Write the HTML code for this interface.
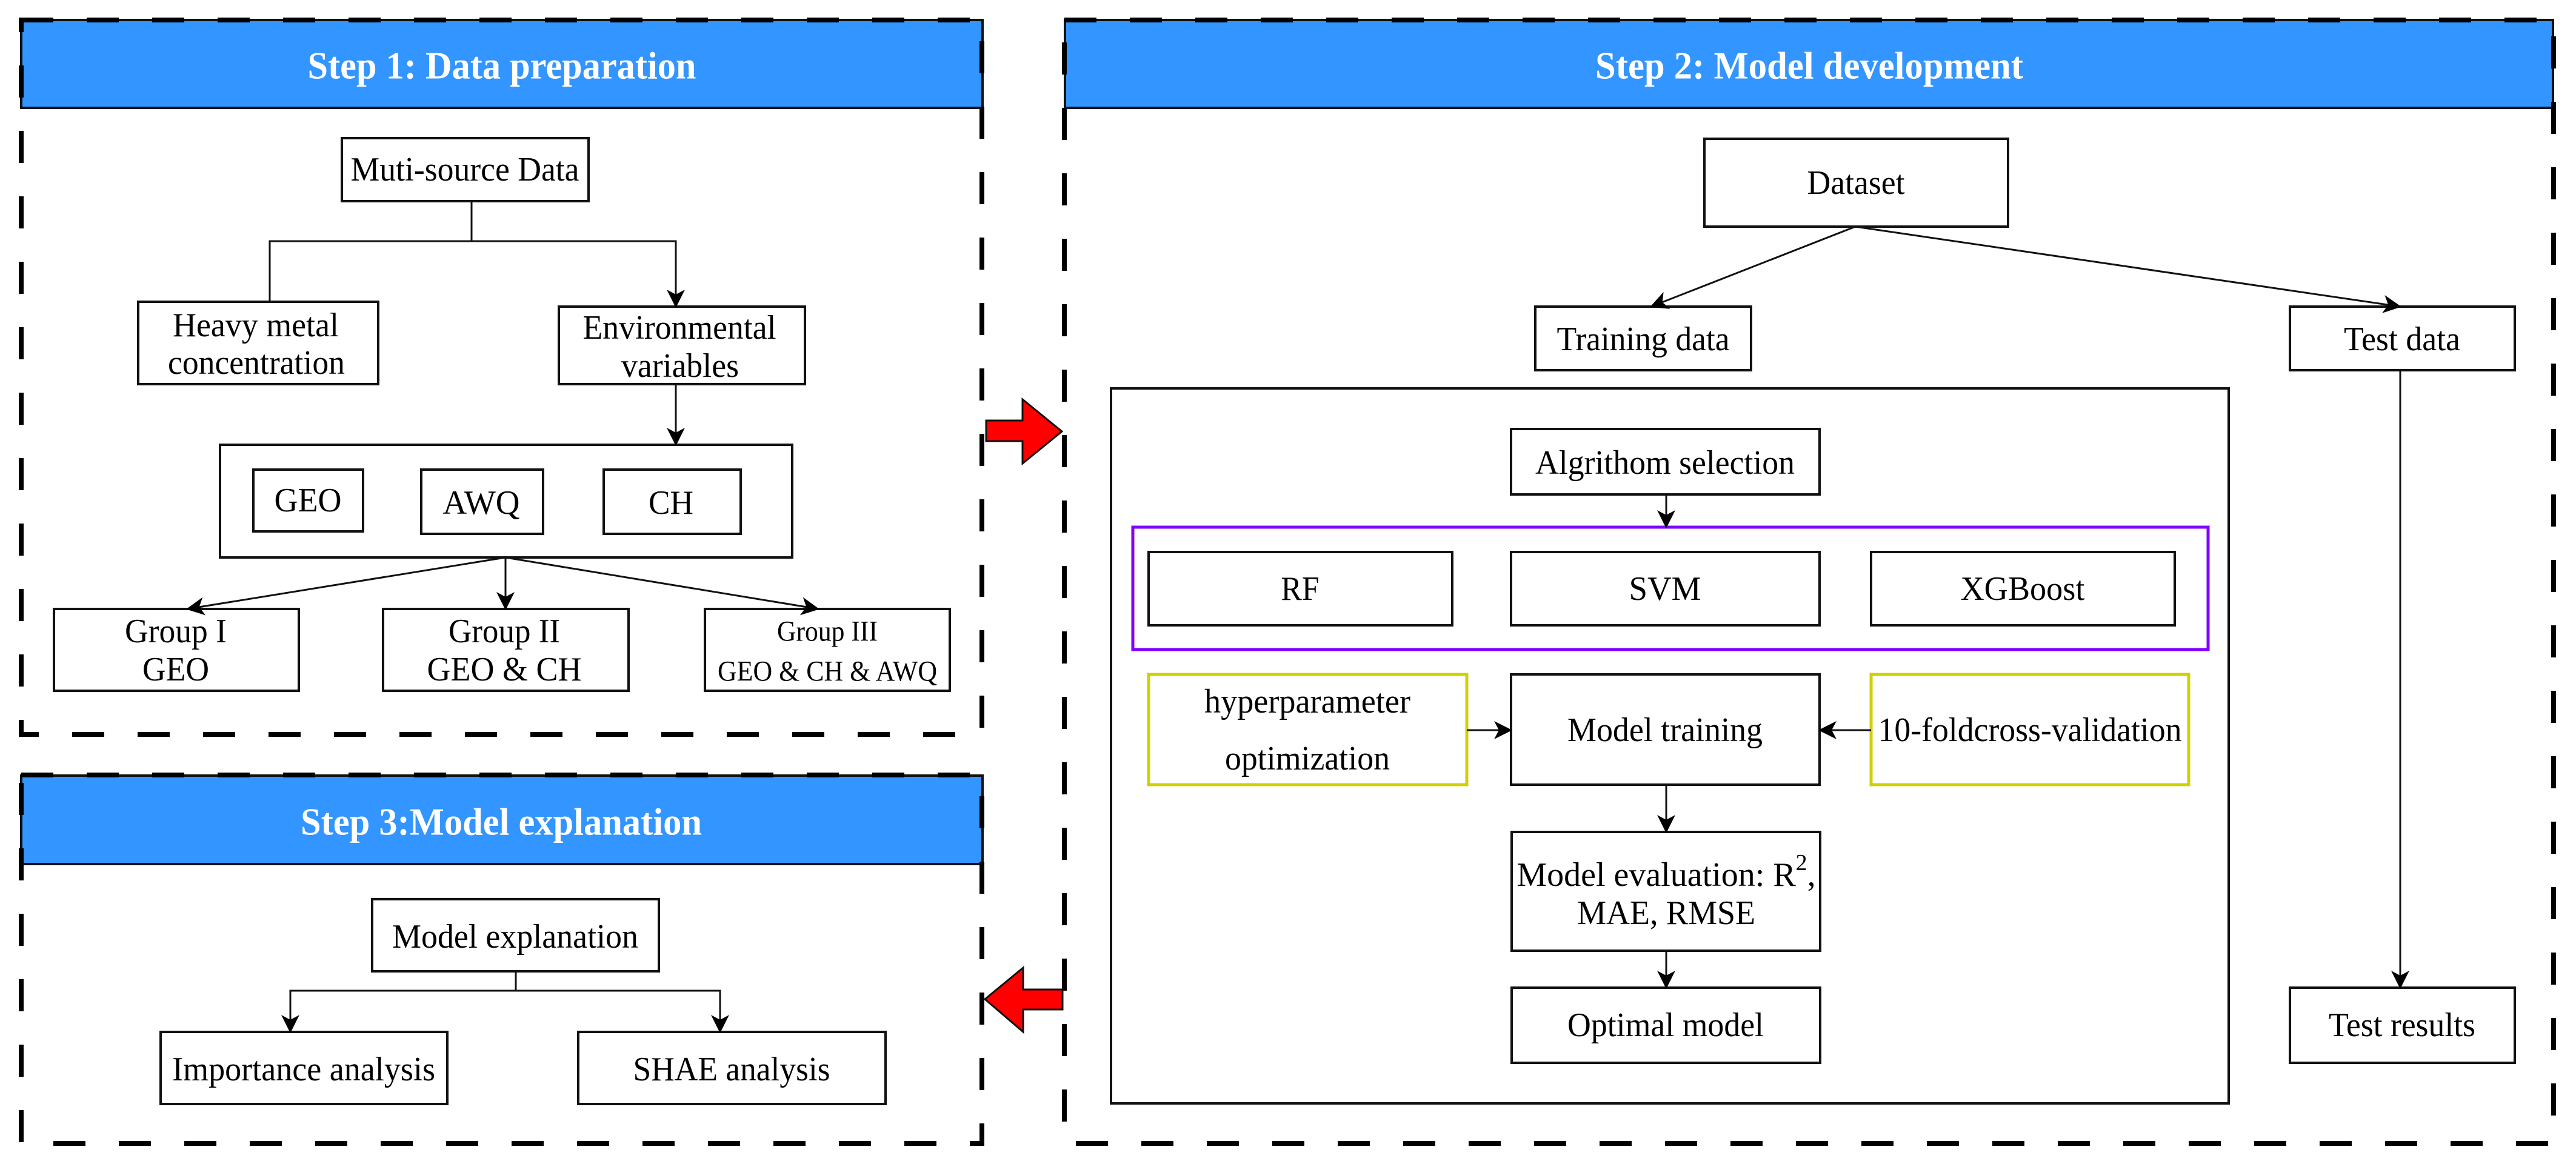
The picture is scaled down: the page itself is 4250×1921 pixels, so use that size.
<!DOCTYPE html>
<html><head><meta charset="utf-8"><style>
html,body{margin:0;padding:0;background:#fff;}
svg{display:block;}
svg text{font-family:"Liberation Serif","Times New Roman",Times,"DejaVu Serif","Noto Serif CJK SC",serif;}
</style></head><body>
<svg width="4250" height="1921" viewBox="0 0 4250 1921" xmlns="http://www.w3.org/2000/svg">
<defs>
<marker id="ah" viewBox="0 0 30 30" refX="28" refY="15" markerWidth="30" markerHeight="30" markerUnits="userSpaceOnUse" orient="auto">
<path d="M0,0 L30,15 L0,30 L8,15 Z" fill="#000"/>
</marker>
</defs>
<g text-anchor="middle" dominant-baseline="central" font-size="56" fill="#000">

<!-- STEP 1 -->
<rect x="35" y="33" width="1586" height="145" fill="#3395ff" stroke="#111" stroke-width="4"/>
<text x="828" y="108" font-size="64" font-weight="bold" fill="#fff" textLength="641" lengthAdjust="spacingAndGlyphs">Step 1: Data preparation</text>
<rect x="35" y="33" width="1585" height="1179" fill="none" stroke="#000" stroke-width="8" stroke-dasharray="53,55"/>

<g fill="#fff" stroke="#111" stroke-width="4">
<rect x="564" y="228" width="407" height="104"/>
<rect x="228" y="498" width="396" height="136"/>
<rect x="922" y="506" width="406" height="128"/>
<rect x="363" y="734" width="944" height="186"/>
<rect x="418" y="775" width="181" height="102"/>
<rect x="695" y="775" width="201" height="106"/>
<rect x="996" y="775" width="226" height="106"/>
<rect x="89" y="1005" width="404" height="135"/>
<rect x="632" y="1005" width="405" height="135"/>
<rect x="1163" y="1005" width="404" height="135"/>
</g>
<g fill="none" stroke="#111" stroke-width="3">
<polyline points="778,332 778,398 445,398 445,498"/>
<polyline points="778,398 1115,398 1115,506" marker-end="url(#ah)"/>
<line x1="1115" y1="634" x2="1115" y2="734" marker-end="url(#ah)"/>
<line x1="834" y1="920" x2="309" y2="1005" marker-end="url(#ah)"/>
<line x1="834" y1="920" x2="834" y2="1005" marker-end="url(#ah)"/>
<line x1="834" y1="920" x2="1350" y2="1005" marker-end="url(#ah)"/>
</g>
<text x="767" y="280" textLength="377" lengthAdjust="spacingAndGlyphs">Muti-source Data</text>
<text x="422" y="537" textLength="274" lengthAdjust="spacingAndGlyphs">Heavy metal</text>
<text x="423" y="599" textLength="292" lengthAdjust="spacingAndGlyphs">concentration</text>
<text x="1121" y="541" textLength="319" lengthAdjust="spacingAndGlyphs">Environmental</text>
<text x="1122" y="604" textLength="194" lengthAdjust="spacingAndGlyphs">variables</text>
<text x="508" y="826" textLength="111" lengthAdjust="spacingAndGlyphs">GEO</text>
<text x="794" y="830" textLength="127" lengthAdjust="spacingAndGlyphs">AWQ</text>
<text x="1107" y="830" textLength="74" lengthAdjust="spacingAndGlyphs">CH</text>
<text x="290" y="1042" textLength="168" lengthAdjust="spacingAndGlyphs">Group I</text>
<text x="290" y="1105" textLength="110" lengthAdjust="spacingAndGlyphs">GEO</text>
<text x="832" y="1042" textLength="184" lengthAdjust="spacingAndGlyphs">Group II</text>
<text x="832" y="1105" textLength="255" lengthAdjust="spacingAndGlyphs">GEO &amp; CH</text>
<text x="1365" y="1042" font-size="48" textLength="166" lengthAdjust="spacingAndGlyphs">Group III</text>
<text x="1365" y="1108" font-size="48" textLength="362" lengthAdjust="spacingAndGlyphs">GEO &amp; CH &amp; AWQ</text>

<!-- STEP 3 -->
<rect x="35" y="1280" width="1586" height="146" fill="#3395ff" stroke="#111" stroke-width="4"/>
<text x="827" y="1356" font-size="64" font-weight="bold" fill="#fff" textLength="662" lengthAdjust="spacingAndGlyphs">Step 3:Model explanation</text>
<rect x="35" y="1279" width="1585" height="608" fill="none" stroke="#000" stroke-width="8" stroke-dasharray="53,55"/>
<g fill="#fff" stroke="#111" stroke-width="4">
<rect x="614" y="1484" width="473" height="119"/>
<rect x="265" y="1703" width="473" height="119"/>
<rect x="954" y="1703" width="507" height="119"/>
</g>
<g fill="none" stroke="#111" stroke-width="3">
<line x1="851" y1="1603" x2="851" y2="1635"/>
<polyline points="851,1635 479,1635 479,1703" marker-end="url(#ah)"/>
<polyline points="851,1635 1188,1635 1188,1703" marker-end="url(#ah)"/>
</g>
<text x="850" y="1546" textLength="406" lengthAdjust="spacingAndGlyphs">Model explanation</text>
<text x="501" y="1765" textLength="434" lengthAdjust="spacingAndGlyphs">Importance analysis</text>
<text x="1207" y="1765" textLength="325" lengthAdjust="spacingAndGlyphs">SHAE analysis</text>

<!-- red arrows -->
<path d="M1627,694 L1687,694 L1687,659 L1752,712 L1687,765 L1687,728 L1627,728 Z" fill="#f00" stroke="#111" stroke-width="3"/>
<path d="M1753,1633 L1688,1633 L1688,1597 L1625,1649 L1688,1703 L1688,1666 L1753,1666 Z" fill="#f00" stroke="#111" stroke-width="3"/>

<!-- STEP 2 -->
<rect x="1757" y="33" width="2455" height="145" fill="#3395ff" stroke="#111" stroke-width="4"/>
<text x="2985" y="108" font-size="64" font-weight="bold" fill="#fff" textLength="706" lengthAdjust="spacingAndGlyphs">Step 2: Model development</text>
<rect x="1756" y="33" width="2457" height="1854" fill="none" stroke="#000" stroke-width="8" stroke-dasharray="53,55"/>

<g fill="#fff" stroke="#111" stroke-width="4">
<rect x="2812" y="229" width="501" height="145"/>
<rect x="2533" y="506" width="356" height="105"/>
<rect x="3778" y="506" width="371" height="105"/>
<rect x="1833" y="641" width="1844" height="1180"/>
<rect x="2493" y="708" width="509" height="108"/>
<rect x="1895" y="911" width="501" height="121"/>
<rect x="2493" y="911" width="509" height="121"/>
<rect x="3087" y="911" width="501" height="121"/>
<rect x="2493" y="1113" width="509" height="182"/>
<rect x="2494" y="1373" width="509" height="196"/>
<rect x="2494" y="1630" width="509" height="124"/>
<rect x="3778" y="1630" width="371" height="124"/>
</g>
<rect x="1869" y="870" width="1774" height="202" fill="none" stroke="#8000ff" stroke-width="5"/>
<rect x="1895" y="1113" width="525" height="182" fill="none" stroke="#d0d000" stroke-width="5"/>
<rect x="3087" y="1113" width="524" height="182" fill="none" stroke="#d0d000" stroke-width="5"/>

<g fill="none" stroke="#111" stroke-width="3">
<line x1="3061" y1="374" x2="2724" y2="506" marker-end="url(#ah)"/>
<line x1="3061" y1="374" x2="3960" y2="506" marker-end="url(#ah)"/>
<line x1="3960" y1="611" x2="3960" y2="1630" marker-end="url(#ah)"/>
<line x1="2749" y1="816" x2="2749" y2="870" marker-end="url(#ah)"/>
<line x1="2420" y1="1205" x2="2493" y2="1205" marker-end="url(#ah)"/>
<line x1="3087" y1="1205" x2="3002" y2="1205" marker-end="url(#ah)"/>
<line x1="2749" y1="1295" x2="2749" y2="1373" marker-end="url(#ah)"/>
<line x1="2749" y1="1569" x2="2749" y2="1630" marker-end="url(#ah)"/>
</g>
<text x="3062" y="302" textLength="161" lengthAdjust="spacingAndGlyphs">Dataset</text>
<text x="2711" y="560" textLength="285" lengthAdjust="spacingAndGlyphs">Training data</text>
<text x="3963" y="560" textLength="192" lengthAdjust="spacingAndGlyphs">Test data</text>
<text x="2747" y="764" textLength="428" lengthAdjust="spacingAndGlyphs">Algrithom selection</text>
<text x="2145" y="972" textLength="63" lengthAdjust="spacingAndGlyphs">RF</text>
<text x="2747" y="972" textLength="119" lengthAdjust="spacingAndGlyphs">SVM</text>
<text x="3337" y="972" textLength="205" lengthAdjust="spacingAndGlyphs">XGBoost</text>
<text x="2157" y="1158" textLength="340" lengthAdjust="spacingAndGlyphs">hyperparameter</text>
<text x="2157" y="1252" textLength="272" lengthAdjust="spacingAndGlyphs">optimization</text>
<text x="2747" y="1205" textLength="322" lengthAdjust="spacingAndGlyphs">Model training</text>
<text x="3349" y="1205" textLength="501" lengthAdjust="spacingAndGlyphs">10-foldcross-validation</text>
<text x="2749" y="1444">Model evaluation: R<tspan font-size="38" dy="-20">2</tspan><tspan dy="20">,</tspan></text>
<text x="2749" y="1507" textLength="294" lengthAdjust="spacingAndGlyphs">MAE, RMSE</text>
<text x="2748" y="1692" textLength="324" lengthAdjust="spacingAndGlyphs">Optimal model</text>
<text x="3963" y="1692" textLength="242" lengthAdjust="spacingAndGlyphs">Test results</text>
</g>
</svg>
</body></html>
